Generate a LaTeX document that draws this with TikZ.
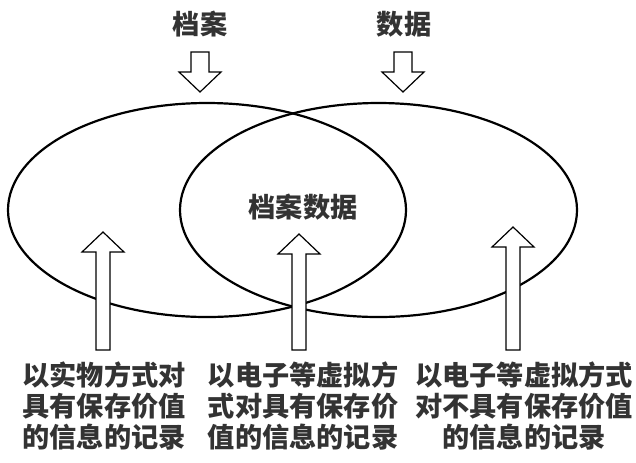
\documentclass[tikz,border=0pt]{standalone}
\usepackage{fontspec}
\newfontfamily\cjk{Noto Sans CJK SC}
\usetikzlibrary{calc,shapes.geometric}
\newcommand{\hollowdown}[2]{%
  \draw[hollow] let \p1=(#1), \p2=(#2) in
    (\x1-4.5pt,\y1) -- (\x1+4.5pt,\y1) -- (\x1+4.5pt,\y2+10pt) -- (\x1+10.5pt,\y2+10pt)
    -- (\x1,\y2) -- (\x1-10.5pt,\y2+10pt) -- (\x1-4.5pt,\y2+10pt) -- cycle;}
\newcommand{\hollowup}[2]{%
  \draw[hollow] let \p1=(#1), \p2=(#2) in
    (\x1-3.5pt,\y1) -- (\x1-3.5pt,\y2-10pt) -- (\x1-10.5pt,\y2-10pt)
    -- (\x1,\y2) -- (\x1+10.5pt,\y2-10pt) -- (\x1+3.5pt,\y2-10pt) -- (\x1+3.5pt,\y1) -- cycle;}
\begin{document}
\begin{tikzpicture}[
x=0.5pt, y=-0.5pt,
set/.style={draw, ellipse, line width=1.1pt, inner sep=0pt},
word/.style={inner sep=0pt, text=black!80, font=\cjk\bfseries\fontsize{13.6}{15.5}\selectfont, align=center},
hollow/.style={draw, fill=white, line width=0.6pt, line join=miter}
]
\useasboundingbox (0,0) rectangle (636,462);
\node[set, minimum width=199pt, minimum height=107pt] (dangset) at (207,210) {};
\node[set, minimum width=198.5pt, minimum height=107pt] (shujuset) at (378.5,210) {};
\node[word] (dangan) at (200,24) {档案};
\node[word] (shuju) at (404,24) {数据};
\node[word] (both) at (303,207) {档案数据};
\node[word] (note1) at (104,406) {以实物方式对\\具有保存价值\\的信息的记录};
\node[word] (note2) at (303,406) {以电子等虚拟方\\式对具有保存价\\值的信息的记录};
\node[word] (note3) at (524,406) {以电子等虚拟方式\\对不具有保存价值\\的信息的记录};
\coordinate (d1a) at (200,52); \coordinate (d1b) at (200,92);
\coordinate (d2a) at (403,52); \coordinate (d2b) at (403,92);
\coordinate (u1a) at (103,350); \coordinate (u1b) at (103,232);
\coordinate (u2a) at (299,350); \coordinate (u2b) at (299,234);
\coordinate (u3a) at (513,350); \coordinate (u3b) at (513,227);
\hollowdown{d1a}{d1b}
\hollowdown{d2a}{d2b}
\hollowup{u1a}{u1b}
\hollowup{u2a}{u2b}
\hollowup{u3a}{u3b}
\end{tikzpicture}
\end{document}
